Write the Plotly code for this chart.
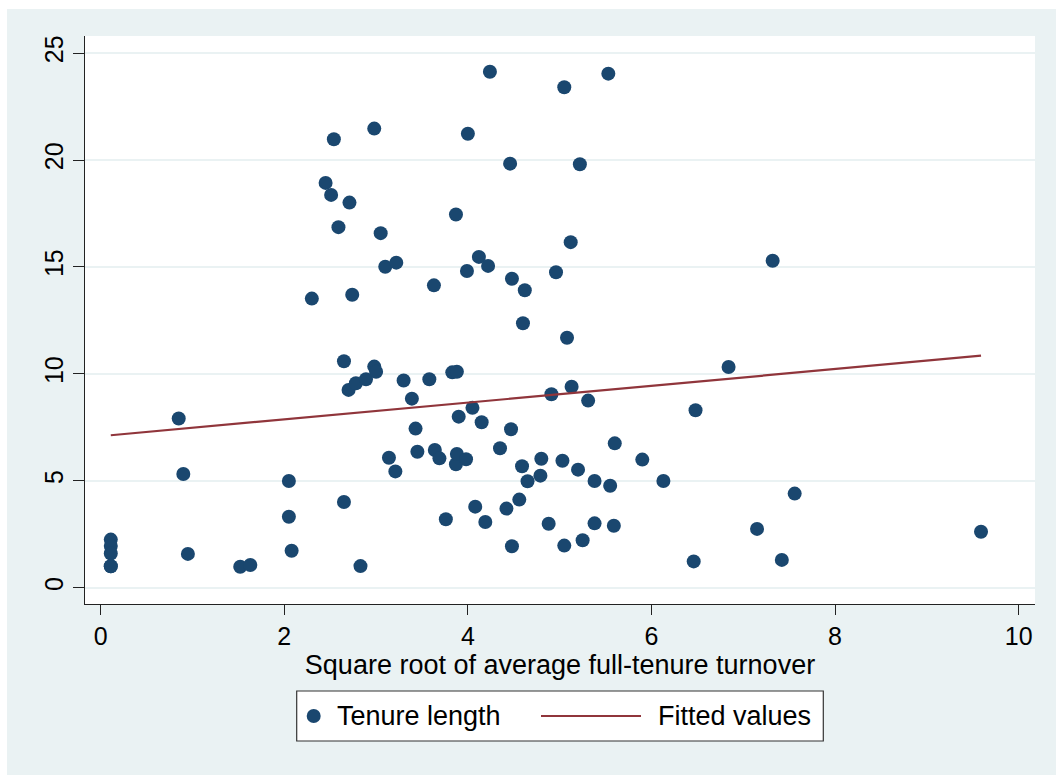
import plotly.graph_objects as go

# ---- data ----
turnover_sqrt = [
    0.11, 0.11, 0.11, 0.11, 0.11,
    0.85, 0.90, 0.95, 1.52, 1.63,
    2.05, 2.05, 2.08, 2.30, 2.45, 2.51, 2.54, 2.59, 2.65, 2.65,
    2.70, 2.71, 2.74, 2.78, 2.83, 2.89, 2.98, 2.98, 3.00, 3.05,
    3.10, 3.14, 3.21, 3.22, 3.30, 3.39, 3.43, 3.45, 3.58, 3.63,
    3.64, 3.69, 3.76, 3.83, 3.87, 3.87, 3.88, 3.88, 3.90, 3.98,
    3.99, 4.00, 4.05, 4.08, 4.12, 4.15, 4.19, 4.22, 4.24, 4.35,
    4.42, 4.46, 4.47, 4.48, 4.48, 4.56, 4.59, 4.60, 4.62, 4.65,
    4.79, 4.80, 4.88, 4.91, 4.96, 5.03, 5.05, 5.05, 5.08, 5.12,
    5.13, 5.20, 5.22, 5.25, 5.31, 5.38, 5.38, 5.53, 5.55, 5.59,
    5.60, 5.90, 6.13, 6.46, 6.48, 6.84, 7.15, 7.32, 7.42, 7.56,
    9.59,
]
tenure_length = [
    2.25, 1.95, 1.60, 1.00, 1.00,
    7.91, 5.32, 1.58, 0.98, 1.06,
    4.99, 3.32, 1.73, 13.52, 18.93, 18.37, 20.97, 16.86, 10.59, 4.01,
    9.25, 18.01, 13.70, 9.56, 1.01, 9.75, 21.47, 10.34, 10.10, 16.58,
    15.01, 6.08, 5.44, 15.20, 9.69, 8.84, 7.44, 6.36, 9.75, 14.14,
    6.44, 6.05, 3.20, 10.07, 17.45, 5.77, 10.10, 6.25, 8.00, 6.01,
    14.81, 21.23, 8.41, 3.79, 15.47, 7.74, 3.07, 15.05, 24.13, 6.52,
    3.70, 19.83, 7.41, 14.45, 1.94, 4.12, 5.68, 12.37, 13.91, 4.98,
    5.24, 6.03, 2.99, 9.05, 14.75, 5.94, 23.40, 1.97, 11.69, 16.16,
    9.40, 5.52, 19.80, 2.22, 8.75, 4.99, 3.01, 24.04, 4.77, 2.90,
    6.75, 5.99, 4.99, 1.23, 8.30, 10.32, 2.75, 15.29, 1.30, 4.40,
    2.62,
]
fit_x = [0.11, 9.59]
fit_y = [7.13, 10.85]

x_ticks = [0, 2, 4, 6, 8, 10]
y_ticks = [0, 5, 10, 15, 20, 25]
x_title = "Square root of average full-tenure turnover"
legend_labels = ["Tenure length", "Fitted values"]

# ---- styling ----
NAVY = "#1A476F"
MAROON = "#90353B"
BG = "#EAF2F3"
FONT = "Liberation Sans, Arial, Helvetica, sans-serif"

W, H = 1056, 775
L, R, T, B = 85, 21, 36, 171
PW, PH = W - L - R, H - T - B


def px(xp):
    return (xp - L) / PW


def py(yp):
    return (H - B - yp) / PH


fig = go.Figure()
fig.add_trace(go.Scatter(
    x=turnover_sqrt, y=tenure_length, mode="markers", name=legend_labels[0],
    marker=dict(color=NAVY, size=14, line=dict(width=0)),
))
fig.add_trace(go.Scatter(
    x=fit_x, y=fit_y, mode="lines", name=legend_labels[1],
    line=dict(color=MAROON, width=2.2),
))

shapes = [
    # white strips at top and left of the page
    dict(type="rect", xref="paper", yref="paper", x0=px(-5), x1=px(W + 5), y0=py(9), y1=py(-5),
         fillcolor="white", line=dict(width=0), layer="below"),
    dict(type="rect", xref="paper", yref="paper", x0=px(-5), x1=px(7), y0=py(H + 5), y1=py(-5),
         fillcolor="white", line=dict(width=0), layer="below"),
    # legend box
    dict(type="rect", xref="paper", yref="paper", x0=px(296.7), x1=px(823.3), y0=py(741), y1=py(691),
         fillcolor="white", line=dict(color="#333333", width=1.2), layer="above"),
    dict(type="circle", xref="paper", yref="paper", x0=px(313.7 - 7), x1=px(313.7 + 7),
         y0=py(716 + 7), y1=py(716 - 7), fillcolor=NAVY, line=dict(width=0), layer="above"),
    dict(type="line", xref="paper", yref="paper", x0=px(541), x1=px(641), y0=py(716), y1=py(716),
         line=dict(color=MAROON, width=2.2), layer="above"),
]

annotations = [
    dict(xref="paper", yref="paper", x=px(335), y=py(716), text=legend_labels[0], showarrow=False,
         xanchor="left", yanchor="middle", font=dict(size=27, color="black", family=FONT)),
    dict(xref="paper", yref="paper", x=px(656), y=py(716), text=legend_labels[1], showarrow=False,
         xanchor="left", yanchor="middle", font=dict(size=27, color="black", family=FONT)),
]

fig.update_layout(
    width=W, height=H,
    margin=dict(l=L, r=R, t=T, b=B, pad=0),
    paper_bgcolor=BG, plot_bgcolor="white",
    font=dict(family=FONT, color="black"),
    showlegend=False,
    shapes=shapes, annotations=annotations,
    xaxis=dict(
        range=[-0.171, 10.178], tickvals=x_ticks, ticktext=[str(v) for v in x_ticks],
        showgrid=False, zeroline=False, showline=True, linecolor="#222222", linewidth=1.2,
        ticks="outside", ticklen=10, tickwidth=1.2, tickcolor="#222222",
        tickfont=dict(size=25, family=FONT, color="black"),
        title=dict(text=x_title, font=dict(size=27, family=FONT, color="black"), standoff=4),
    ),
    yaxis=dict(
        range=[-0.762, 25.80], tickvals=y_ticks, ticktext=[str(v) for v in y_ticks],
        showgrid=True, gridcolor=BG, gridwidth=2, zeroline=False,
        showline=True, linecolor="#222222", linewidth=1.2,
        ticks="outside", ticklen=11, tickwidth=1.2, tickcolor="#222222",
        tickangle=-90, tickfont=dict(size=25, family=FONT, color="black"),
    ),
)

fig.write_html("out.html")
